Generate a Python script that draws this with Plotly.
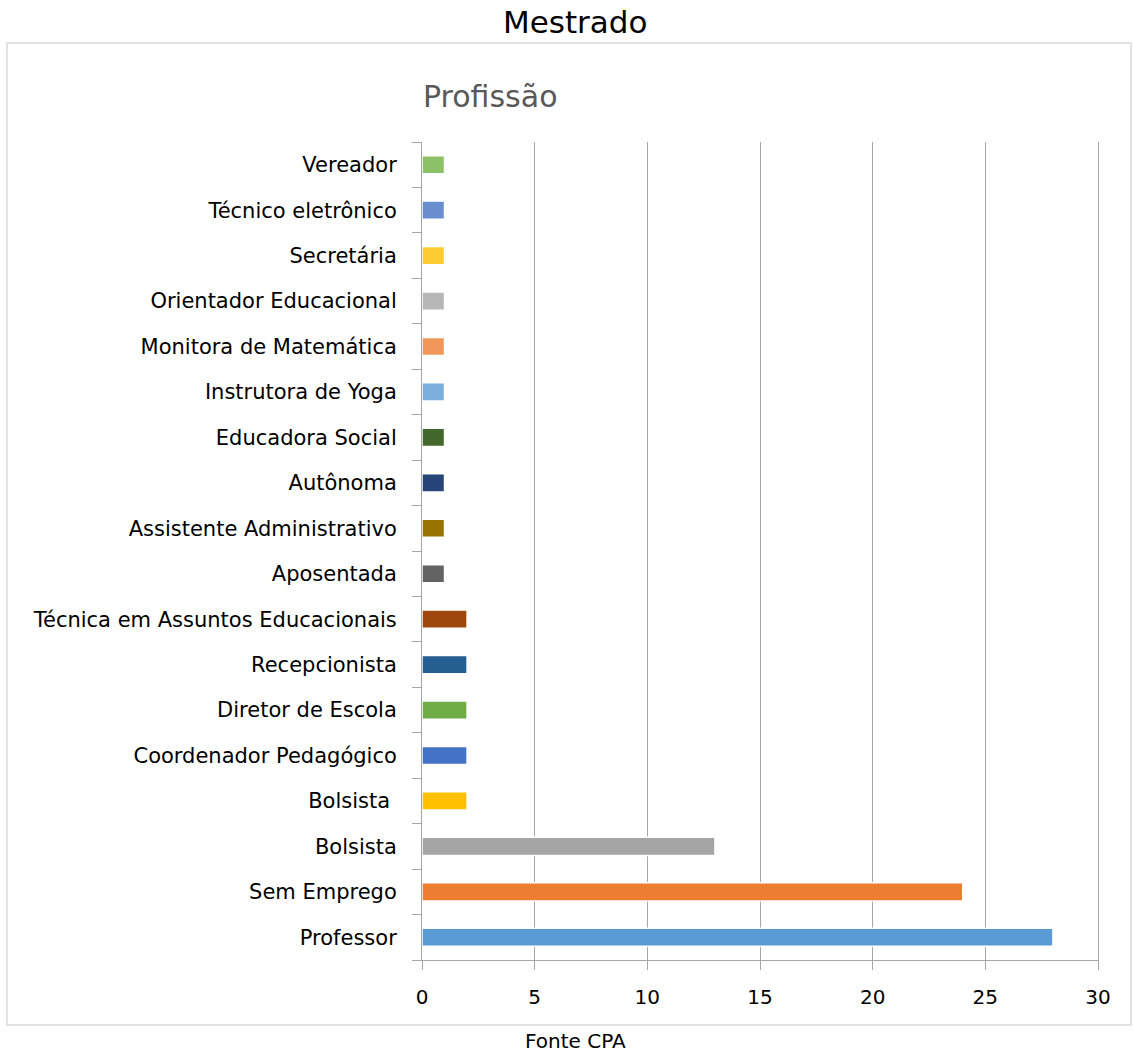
import plotly.graph_objects as go

categories = [
    "Professor", "Sem Emprego", "Bolsista", "Bolsista ", "Coordenador Pedagógico",
    "Diretor de Escola", "Recepcionista", "Técnica em Assuntos Educacionais",
    "Aposentada", "Assistente Administrativo", "Autônoma", "Educadora Social",
    "Instrutora de Yoga", "Monitora de Matemática", "Orientador Educacional",
    "Secretária", "Técnico eletrônico", "Vereador",
]
values = [28, 24, 13, 2, 2, 2, 2, 2, 1, 1, 1, 1, 1, 1, 1, 1, 1, 1]
colors = [
    "#5B9BD5", "#ED7D31", "#A5A5A5", "#FFC000", "#4472C4", "#70AD47",
    "#255E91", "#9E480E", "#636363", "#997300", "#264478", "#43682B",
    "#7CAFDD", "#F1975A", "#B7B7B7", "#FFCD33", "#698ED0", "#8CC168",
]
x_ticks = [0, 5, 10, 15, 20, 25, 30]

FONT = "DejaVu Sans"

fig = go.Figure(go.Bar(
    y=categories, x=values, orientation="h",
    marker=dict(color=colors, line=dict(color="white", width=1.5)),
    hoverinfo="x+y",
))

L, R, T, B = 422, 1098, 142, 960
W, H = 1134, 1052
pw, ph = R - L, B - T

def px(x):
    return (x - L) / pw

def py(y):
    return (B - y) / ph

fig.update_layout(
    width=W, height=H,
    margin=dict(l=L, r=W - R, t=T, b=H - B, autoexpand=False),
    paper_bgcolor="white", plot_bgcolor="white",
    font=dict(family=FONT, color="black"),
    bargap=0.6,
    showlegend=False,
    xaxis=dict(
        range=[0, 30], tickvals=x_ticks, showgrid=True,
        gridcolor="#A6A6A6", gridwidth=1,
        showline=True, linecolor="#A6A6A6", linewidth=1,
        ticks="outside", ticklen=9, tickcolor="#A6A6A6",
        tickfont=dict(size=20, family=FONT, color="black"),
        ticklabelstandoff=10, zeroline=False, fixedrange=True,
    ),
    yaxis=dict(
        type="category", categoryorder="array", categoryarray=categories,
        showline=True, mirror=True, linecolor="#A6A6A6", linewidth=1,
        ticks="outside", tickson="boundaries", ticklen=9, tickcolor="#A6A6A6",
        tickfont=dict(size=21, family=FONT, color="black"),
        ticklabelstandoff=20, showgrid=False, fixedrange=True,
    ),
    shapes=[dict(
        type="rect", xref="paper", yref="paper",
        x0=px(7), x1=px(1131), y0=py(1025), y1=py(43),
        line=dict(color="#D9D9D9", width=1.5), fillcolor="rgba(0,0,0,0)",
        layer="below",
    )],
    annotations=[
        dict(text="Mestrado", xref="paper", yref="paper",
             x=px(575), y=py(22), xanchor="center", yanchor="middle",
             showarrow=False, font=dict(size=31, family=FONT, color="black")),
        dict(text="Profissão", xref="paper", yref="paper",
             x=px(490), y=py(96), xanchor="center", yanchor="middle",
             showarrow=False, font=dict(size=30, family=FONT, color="#595959")),
        dict(text="Fonte CPA", xref="paper", yref="paper",
             x=px(575), y=py(1041), xanchor="center", yanchor="middle",
             showarrow=False, font=dict(size=20, family=FONT, color="black")),
    ],
)

fig.write_html("out.html")
